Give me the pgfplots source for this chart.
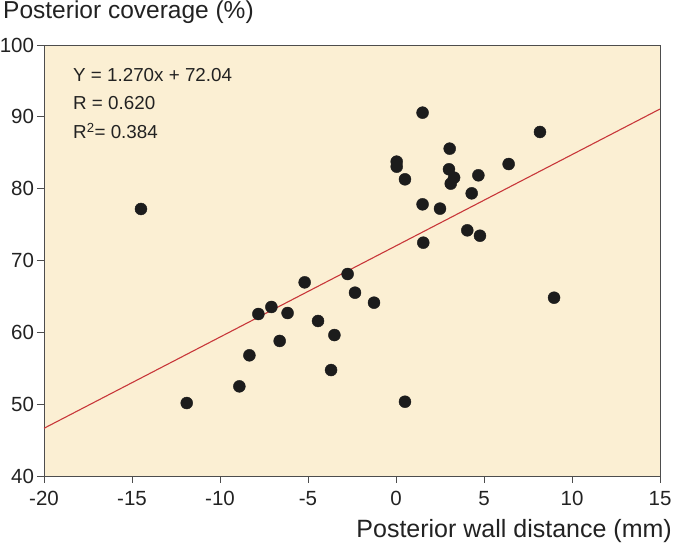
\documentclass[border=0pt]{standalone}
\usepackage{pgfplots}
\pgfplotsset{compat=1.18}
\usepackage{fontspec}
\setmainfont{Liberation Sans}
\definecolor{bg}{HTML}{FBEFD3}
\definecolor{reg}{HTML}{C8373A}
\definecolor{frm}{HTML}{4D4D4D}
\definecolor{dot}{HTML}{1C1C1C}
\definecolor{txt}{HTML}{222222}
\begin{document}
\begin{tikzpicture}[x=1pt,y=1pt]
\useasboundingbox (-44,-72) rectangle (630,476);
\begin{axis}[
  at={(0,0)}, anchor=south west,
  scale only axis, width=616pt, height=431pt,
  xmin=-20, xmax=15, ymin=40, ymax=100,
  xtick={-20,-15,-10,-5,0,5,10,15},
  ytick={40,50,60,70,80,90,100},
  tick align=outside, tick pos=left,
  major tick length=7pt,
  axis background/.style={fill=bg},
  axis line style={frm, line width=0.8pt},
  tick style={frm, line width=0.8pt},
  ticklabel style={font=\fontsize{20.5}{24}\selectfont, text=txt},
  /pgf/number format/assume math mode=true,
  xticklabel style={yshift=-5pt},
  yticklabel style={xshift=0.5pt},
]
\addplot[reg, line width=1.1pt] coordinates {(-20,46.64) (15,91.09)};
\addplot[only marks, mark=*, mark size=6pt, mark options={fill=dot, draw=dot}] coordinates {
(-14.49,77.17) (-11.89,50.16) (-8.90,52.48) (-8.33,56.80) (-7.82,62.55)
(-7.08,63.53) (-6.61,58.80) (-6.16,62.69) (-5.19,66.96) (-4.43,61.58)
(-3.69,54.75) (-3.50,59.62) (-2.75,68.12) (-2.33,65.52) (-1.25,64.13)
(0.51,50.34) (1.55,72.48) (1.51,90.58) (3.05,85.57) (0.04,83.76)
(0.04,83.06) (0.51,81.30) (3.01,82.70) (3.30,81.53) (3.11,80.70)
(4.68,81.86) (6.40,83.43) (8.18,87.89) (4.30,79.35) (1.51,77.82)
(2.50,77.22) (4.05,74.20) (4.77,73.45) (8.98,64.82)
};
\end{axis}
\node[anchor=base west, inner sep=0pt, font=\fontsize{24.5}{28}\selectfont, text=txt] at (-41,457.2) {Posterior coverage (\%)};
\node[anchor=base east, inner sep=0pt, font=\fontsize{25}{28}\selectfont, text=txt] at (628,-62) {Posterior wall distance (mm)};
\begin{scope}[every node/.style={anchor=base west, inner sep=0pt, font=\fontsize{18.8}{22}\selectfont, text=txt}]
\node at (29,394) {Y = 1.270x + 72.04};
\node at (29,366) {R = 0.620};
\node at (29,337) {R\textsuperscript{2}= 0.384};
\end{scope}
\end{tikzpicture}
\end{document}
